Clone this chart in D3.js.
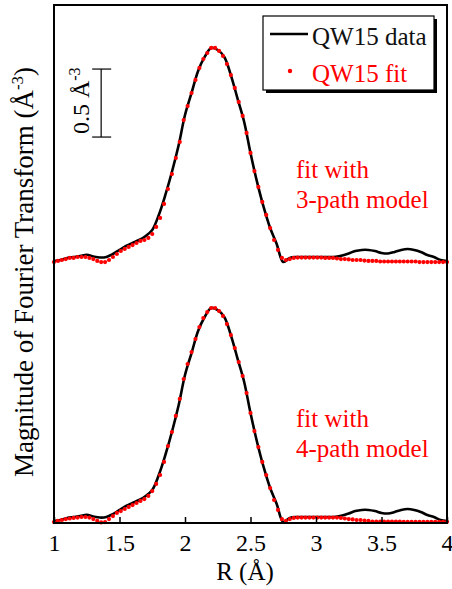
<!DOCTYPE html>
<html>
<head>
<meta charset="utf-8">
<script src="https://cdn.jsdelivr.net/npm/d3@7"></script>
<style>
  body { margin: 0; background: #fff; }
  text { font-family: "Liberation Serif", "Times New Roman", serif; }
</style>
</head>
<body>
<div id="chart"></div>
<script>
// x ticks
var xTicks = [1, 1.5, 2, 2.5, 3, 3.5, 4];
var xTickLabels = ["1", "1.5", "2", "2.5", "3", "3.5", "4"];

// measured data (same in both panels), R step 0.05 from 1 to 4
var dataR = d3.range(61).map(function(i) { return 1 + i * 0.05; });
var dataMag = [
  0.015, 0.022, 0.037, 0.044, 0.051, 0.060, 0.048, 0.040, 0.044, 0.066,
  0.096, 0.125, 0.147, 0.169, 0.199, 0.243, 0.353, 0.500, 0.669, 0.860,
  1.088, 1.250, 1.412, 1.515, 1.581, 1.566, 1.515, 1.382, 1.213, 1.044,
  0.809, 0.596, 0.412, 0.257, 0.140, 0.007, 0.037, 0.044, 0.044, 0.044,
  0.044, 0.044, 0.044, 0.046, 0.055, 0.070, 0.088, 0.096, 0.096, 0.088,
  0.074, 0.070, 0.081, 0.096, 0.103, 0.096, 0.081, 0.059, 0.044, 0.022,
  0.015
];

// fits, R step 0.03 from 1 to 4
var fitR = d3.range(101).map(function(i) { return 1 + i * 0.03; });
var fit3path = [
  0.007, 0.015, 0.022, 0.029, 0.037, 0.037, 0.044, 0.044, 0.044, 0.037,
  0.029, 0.015, 0.007, 0.007, 0.022, 0.044, 0.066, 0.088, 0.103, 0.118,
  0.132, 0.147, 0.162, 0.169, 0.184, 0.213, 0.265, 0.331, 0.434, 0.544,
  0.654, 0.772, 0.890, 1.051, 1.154, 1.250, 1.346, 1.434, 1.500, 1.544,
  1.581, 1.581, 1.559, 1.522, 1.463, 1.382, 1.287, 1.184, 1.081, 0.956,
  0.809, 0.676, 0.559, 0.449, 0.353, 0.257, 0.169, 0.096, 0.037, 0.022,
  0.029, 0.037, 0.040, 0.040, 0.040, 0.040, 0.040, 0.040, 0.040, 0.037,
  0.037, 0.037, 0.033, 0.029, 0.029, 0.026, 0.022, 0.022, 0.022, 0.018,
  0.015, 0.015, 0.015, 0.011, 0.011, 0.011, 0.011, 0.011, 0.011, 0.011,
  0.011, 0.011, 0.011, 0.007, 0.007, 0.007, 0.007, 0.007, 0.007, 0.007,
  0.007
];
var fit4path = [
  0.007, 0.015, 0.022, 0.029, 0.033, 0.037, 0.040, 0.044, 0.044, 0.040,
  0.029, 0.015, 0.004, 0.007, 0.029, 0.051, 0.074, 0.088, 0.103, 0.118,
  0.132, 0.147, 0.162, 0.176, 0.199, 0.235, 0.287, 0.353, 0.449, 0.566,
  0.669, 0.787, 0.912, 1.059, 1.169, 1.257, 1.353, 1.441, 1.507, 1.551,
  1.581, 1.581, 1.559, 1.522, 1.463, 1.382, 1.287, 1.184, 1.081, 0.956,
  0.809, 0.676, 0.559, 0.449, 0.353, 0.257, 0.169, 0.096, 0.029, 0.015,
  0.029, 0.037, 0.040, 0.040, 0.040, 0.040, 0.040, 0.040, 0.040, 0.040,
  0.040, 0.040, 0.040, 0.037, 0.033, 0.029, 0.026, 0.022, 0.022, 0.018,
  0.015, 0.011, 0.011, 0.011, 0.011, 0.011, 0.011, 0.011, 0.011, 0.009,
  0.009, 0.009, 0.009, 0.009, 0.009, 0.009, 0.009, 0.009, 0.009, 0.009,
  0.009
];

// vertical offset of the upper (3-path) panel
var topOffset = 1.912;

var width = 452, height = 589;
var svg = d3.select("#chart").append("svg")
  .attr("width", width)
  .attr("height", height);

var x = d3.scaleLinear().domain([1, 4]).range([54, 447]);
var y = d3.scaleLinear().domain([0, 3.809]).range([523, 5]);

var line = d3.line()
  .x(function(d) { return x(d[0]); })
  .y(function(d) { return y(d[1]); })
  .curve(d3.curveCatmullRom.alpha(0.5));

function drawPanel(offset, fit) {
  svg.append("path")
    .datum(dataR.map(function(r, i) { return [r, dataMag[i] + offset]; }))
    .attr("fill", "none")
    .attr("stroke", "#000")
    .attr("stroke-width", 2.6)
    .attr("d", line);

  svg.append("g").selectAll("circle")
    .data(fitR.map(function(r, i) { return [r, fit[i] + offset]; }))
    .enter()
    .append("circle")
      .attr("cx", function(d) { return x(d[0]); })
      .attr("cy", function(d) { return y(d[1]); })
      .attr("r", 2.1)
      .attr("fill", "#ff0000");
}

drawPanel(topOffset, fit3path);
drawPanel(0, fit4path);

// x axis with inward ticks
var xAxis = svg.append("g")
  .attr("transform", "translate(0," + y(0) + ")")
  .call(d3.axisBottom(x)
    .tickValues(xTicks)
    .tickSize(-6)
    .tickPadding(11)
    .tickFormat(function(d, i) { return xTickLabels[i]; }));
xAxis.select(".domain").remove();
xAxis.selectAll(".tick line").attr("stroke", "#000").attr("stroke-width", 1.5);
xAxis.selectAll(".tick text")
  .style("font-family", "'Liberation Serif', 'Times New Roman', serif")
  .style("font-size", "24px")
  .attr("fill", "#000");

// frame
svg.append("rect")
  .attr("x", x(1)).attr("y", y(3.809))
  .attr("width", x(4) - x(1)).attr("height", y(0) - y(3.809))
  .attr("fill", "none")
  .attr("stroke", "#000")
  .attr("stroke-width", 2);

// axis titles
svg.append("text")
  .attr("x", 245).attr("y", 580)
  .attr("text-anchor", "middle")
  .style("font-size", "25px")
  .text("R (Å)");

var yl = svg.append("text")
  .attr("transform", "translate(33,272) rotate(-90)")
  .attr("text-anchor", "middle")
  .style("font-size", "27px");
yl.append("tspan").text("Magnitude of Fourier Transform (Å");
yl.append("tspan").attr("dy", "-10").style("font-size", "17px").text("-3");
yl.append("tspan").attr("dy", "10").text(")");

// scale bar: 0.5 Å^-3
var sbR = 1.36, sbY0 = 2.838, sbLen = 0.5;
var sb = svg.append("g").attr("stroke", "#000").attr("stroke-width", 1.2);
sb.append("line")
  .attr("x1", x(sbR)).attr("x2", x(sbR))
  .attr("y1", y(sbY0)).attr("y2", y(sbY0 + sbLen));
[sbY0, sbY0 + sbLen].forEach(function(v) {
  sb.append("line")
    .attr("x1", x(sbR) - 9).attr("x2", x(sbR) + 10)
    .attr("y1", y(v)).attr("y2", y(v));
});
var sbt = svg.append("text")
  .attr("transform", "translate(89," + (y(sbY0) - 3) + ") rotate(-90)")
  .attr("text-anchor", "start")
  .style("font-size", "24px");
sbt.append("tspan").text("0.5 Å");
sbt.append("tspan").attr("dy", "-9").style("font-size", "16px").text("-3");

// legend
svg.append("rect")
  .attr("x", 266).attr("y", 19).attr("width", 171).attr("height", 74)
  .attr("fill", "#000");
svg.append("rect")
  .attr("x", 263).attr("y", 16).attr("width", 171).attr("height", 74)
  .attr("fill", "#fff").attr("stroke", "#000").attr("stroke-width", 1.2);
svg.append("line")
  .attr("x1", 270).attr("x2", 308).attr("y1", 34).attr("y2", 34)
  .attr("stroke", "#000").attr("stroke-width", 2.6);
svg.append("circle")
  .attr("cx", 290).attr("cy", 71).attr("r", 2.2)
  .attr("fill", "#ff0000");
svg.append("text")
  .attr("x", 312).attr("y", 45)
  .style("font-size", "25px")
  .attr("fill", "#111")
  .text("QW15 data");
svg.append("text")
  .attr("x", 312).attr("y", 82)
  .style("font-size", "25px")
  .attr("fill", "#ff0000")
  .text("QW15 fit");

// panel notes
var notes = [
  { lines: ["fit with", "3-path model"], y: 178 },
  { lines: ["fit with", "4-path model"], y: 427 }
];
notes.forEach(function(n) {
  n.lines.forEach(function(s, i) {
    svg.append("text")
      .attr("x", 296).attr("y", n.y + i * 30)
      .style("font-size", "25px")
      .attr("fill", "#ff0000")
      .text(s);
  });
});
</script>
</body>
</html>
